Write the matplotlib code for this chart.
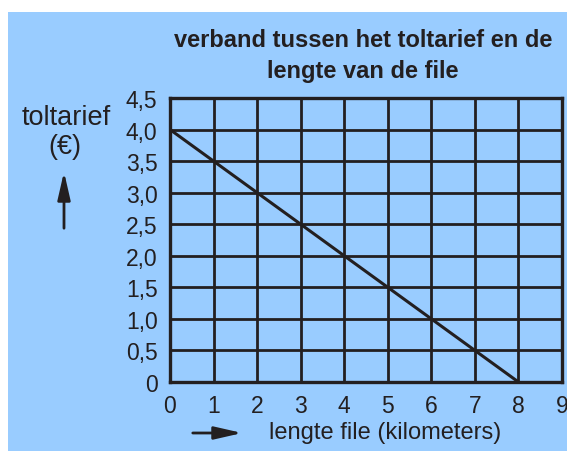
import matplotlib.pyplot as plt
from matplotlib.patches import Rectangle, FancyArrowPatch

plt.rcParams['font.family'] = ['Liberation Sans', 'DejaVu Sans']

# data
lengte = [0, 8]
tarief = [4.0, 0.0]
x_ticks = [0, 1, 2, 3, 4, 5, 6, 7, 8, 9]
y_ticks = [0, 0.5, 1.0, 1.5, 2.0, 2.5, 3.0, 3.5, 4.0, 4.5]
y_labels = ["0", "0,5", "1,0", "1,5", "2,0", "2,5", "3,0", "3,5", "4,0", "4,5"]

W, H = 567, 452
ink = "#231f20"
blue = "#99ccff"

fig = plt.figure(figsize=(W / 100, H / 100), dpi=100, facecolor="white")
# blue panel behind everything
fig.patches.append(Rectangle((8 / W, 0), 1 - 8 / W, 1 - 13 / H,
                             transform=fig.transFigure, facecolor=blue,
                             edgecolor="none", zorder=-10))

ax = fig.add_axes([170 / W, (H - 383) / H, 392 / W, 284 / H])
ax.set_facecolor(blue)
ax.plot(lengte, tarief, color=ink, lw=2.2, solid_capstyle="butt")
ax.set_xlim(0, 9)
ax.set_ylim(0, 4.5)
ax.set_xticks(x_ticks)
ax.set_yticks(y_ticks)
ax.set_yticklabels(y_labels)
ax.grid(True, color=ink, lw=2.0)
ax.set_axisbelow(True)
for s in ax.spines.values():
    s.set_color(ink)
    s.set_linewidth(2.4)
ax.tick_params(length=0, labelsize=16.5, colors=ink)
ax.tick_params(axis="x", pad=9)
ax.tick_params(axis="y", pad=9)
for lab in ax.get_xticklabels() + ax.get_yticklabels():
    lab.set_clip_on(False)

# title
fig.text(363 / W, 1 - 56 / H, "verband tussen het toltarief en de\nlengte van de file",
         ha="center", va="center", fontsize=17, fontweight="bold",
         color=ink, linespacing=1.4)

# y label with arrow
fig.text(66 / W, 1 - 118 / H, "toltarief", ha="center", va="center",
         fontsize=19.5, color=ink)
fig.text(65 / W, 1 - 147 / H, "(€)", ha="center", va="center",
         fontsize=19.5, color=ink)
arrow_style = "-|>,head_length=0.7,head_width=0.16"
fig.patches.append(FancyArrowPatch((64 / W, 1 - 232 / H), (64 / W, 1 - 170 / H),
                                   transform=fig.transFigure, arrowstyle=arrow_style,
                                   mutation_scale=24, lw=2.0, color=ink))

# x label with arrow
fig.text(385 / W, 1 - 433 / H, "lengte file (kilometers)", ha="center",
         va="center", fontsize=17, color=ink)
fig.patches.append(FancyArrowPatch((190 / W, 1 - 434 / H), (245 / W, 1 - 434 / H),
                                   transform=fig.transFigure, arrowstyle=arrow_style,
                                   mutation_scale=24, lw=2.0, color=ink))

fig.savefig("out.png", dpi=100, facecolor="white")
